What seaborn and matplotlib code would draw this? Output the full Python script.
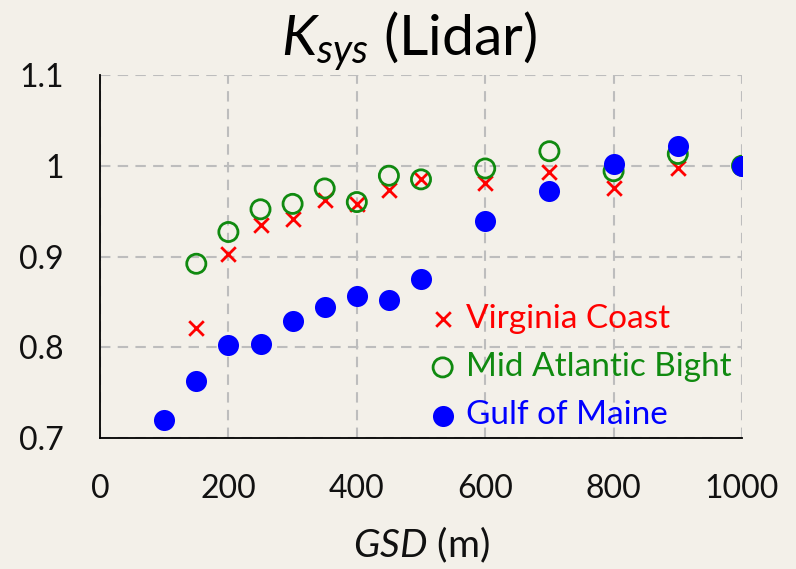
import matplotlib
matplotlib.use("Agg")
import matplotlib.pyplot as plt
import seaborn as sns
import pandas as pd

gsd = [100, 150, 200, 250, 300, 350, 400, 450, 500, 600, 700, 800, 900, 1000]
virginia = [None, 0.821, 0.903, 0.935, 0.941, 0.962, 0.958, 0.973, 0.985, 0.981, 0.993, 0.975, 0.997, 1.0]
mid_atlantic = [None, 0.892, 0.927, 0.952, 0.958, 0.975, 0.960, 0.989, 0.985, 0.997, 1.016, 0.994, 1.013, 1.0]
gulf_maine = [0.720, 0.763, 0.802, 0.804, 0.829, 0.844, 0.856, 0.852, 0.875, 0.939, 0.972, 1.002, 1.022, 1.0]

series_names = ["Virginia Coast", "Mid Atlantic Bight", "Gulf of Maine"]
x_ticks = [0, 200, 400, 600, 800, 1000]
y_ticks = [0.7, 0.8, 0.9, 1.0, 1.1]
y_tick_labels = ["0.7", "0.8", "0.9", "1", "1.1"]

BG = "#f3f0e9"
sns.set_theme(style="white")
plt.rcParams["font.family"] = ["Lato", "DejaVu Sans"]
plt.rcParams["mathtext.fontset"] = "custom"
plt.rcParams["mathtext.it"] = "Lato:italic"
plt.rcParams["mathtext.rm"] = "Lato"

fig = plt.figure(figsize=(7.96, 5.69), dpi=100, facecolor=BG)
ax = fig.add_axes([100/796, 1-438/569, 642/796, 363/569])
ax.set_facecolor(BG)

df_v = pd.DataFrame({"x": gsd, "y": virginia}).dropna()
df_m = pd.DataFrame({"x": gsd, "y": mid_atlantic}).dropna()
df_g = pd.DataFrame({"x": gsd, "y": gulf_maine}).dropna()

sns.scatterplot(data=df_v, x="x", y="y", ax=ax, marker="x", color="#ff0000",
                s=110, linewidth=2.0, label=series_names[0], zorder=3)
sns.scatterplot(data=df_m, x="x", y="y", ax=ax, marker="o", facecolor="none",
                edgecolor="#108a10", s=190, linewidth=2.0, label=series_names[1], zorder=4)
sns.scatterplot(data=df_g, x="x", y="y", ax=ax, marker="o", color="#0000ff",
                s=230, linewidth=0, label=series_names[2], zorder=5)

ax.set_xlim(0, 1000)
ax.set_ylim(0.7, 1.1)
ax.set_xticks(x_ticks)
ax.set_yticks(y_ticks)
ax.set_yticklabels(y_tick_labels)
ax.tick_params(axis="both", length=0, labelsize=23, colors="#111111")
ax.tick_params(axis="x", pad=26)
ax.tick_params(axis="y", pad=26)

ax.grid(True, color="#bdbdbd", linestyle=(0, (5, 3.5)), linewidth=1.5)
for s in ["top", "right"]:
    ax.spines[s].set_visible(False)
for s in ["left", "bottom"]:
    ax.spines[s].set_color("#000000")
    ax.spines[s].set_linewidth(1.3)
ax.set_axisbelow(True)

ax.set_xlabel(r"$\mathit{GSD}$ (m)", fontsize=28, labelpad=15, color="#111111")
ax.set_ylabel("")
ax.set_title(r"$\mathit{K}_{\mathit{sys}}$ (Lidar)", fontsize=41, pad=14, x=0.481,
             color="#000000")

leg = ax.legend(loc="lower left", bbox_to_anchor=(0.487, -0.016), frameon=False,
                fontsize=24, handletextpad=0.2, labelspacing=0.55,
                handlelength=1.0, borderaxespad=0.0)
colors = ["#ff0000", "#108a10", "#0000ff"]
for txt, c in zip(leg.get_texts(), colors):
    txt.set_color(c)

fig.savefig("out.png", dpi=100, facecolor=BG)
